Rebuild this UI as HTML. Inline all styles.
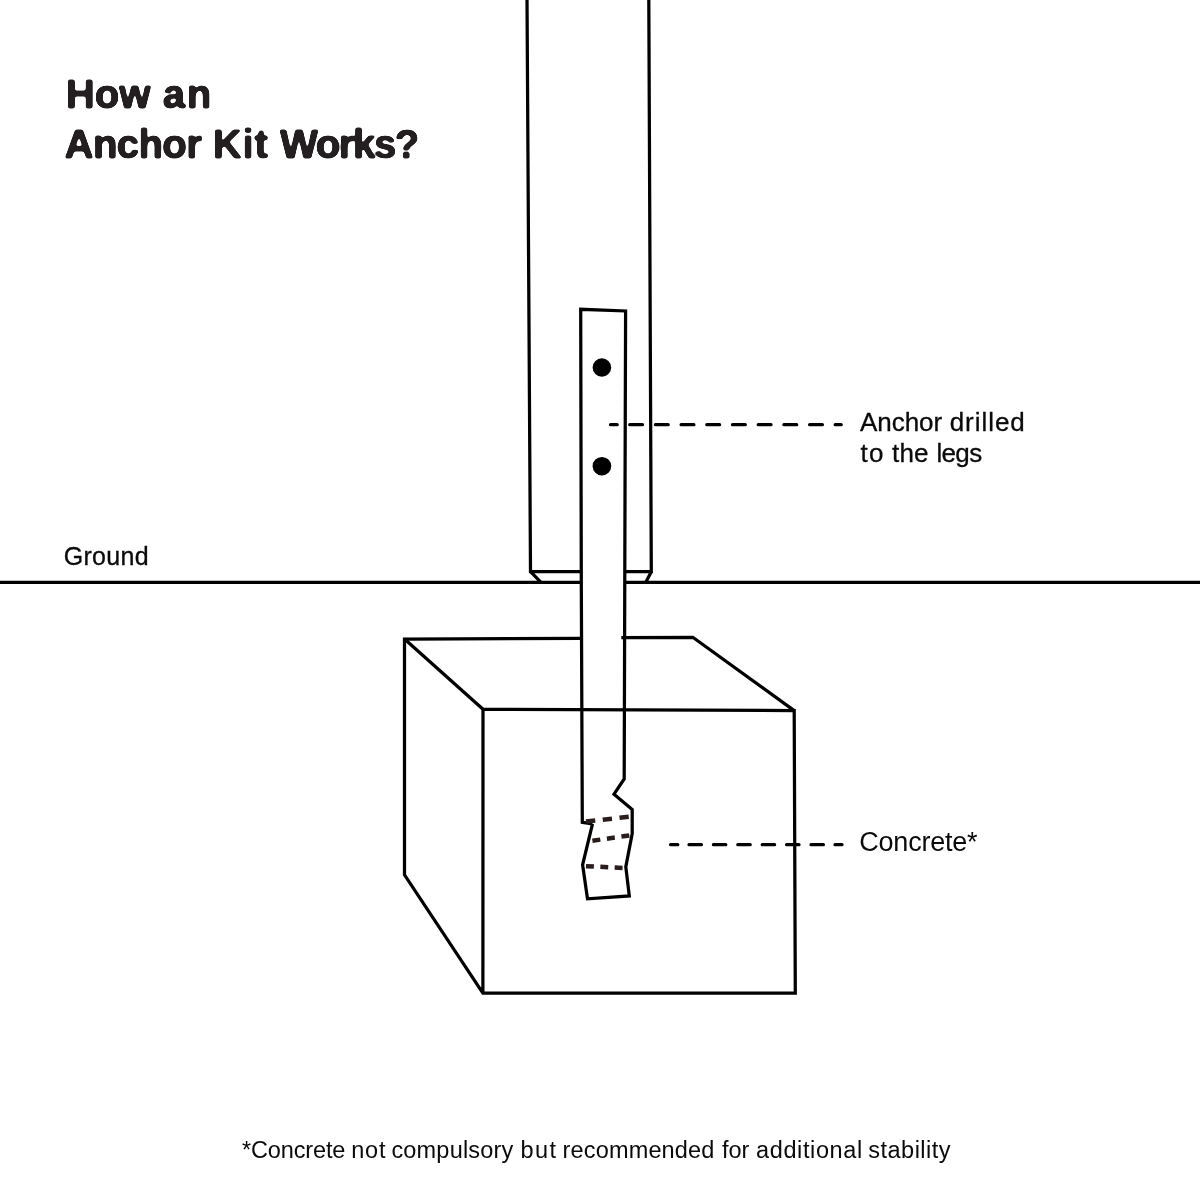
<!DOCTYPE html>
<html>
<head>
<meta charset="utf-8">
<title>How an Anchor Kit Works?</title>
<style>
html,body{margin:0;padding:0;background:#fff;}
body{width:1200px;height:1200px;overflow:hidden;position:relative;font-family:"Liberation Sans",sans-serif;}
svg{position:absolute;left:0;top:0;display:block;will-change:transform;}
text{font-family:"Liberation Sans",sans-serif;}
.t{font-weight:bold;font-size:40.2px;fill:#231f20;stroke:#231f20;stroke-width:1.15px;stroke-linejoin:round;}
.l{font-size:26px;fill:#0a0a0a;stroke:#0a0a0a;stroke-width:0.3px;}
.l2{font-size:27px;fill:#0a0a0a;}
.l3{font-size:23.5px;fill:#0a0a0a;}
</style>
</head>
<body>
<svg width="1200" height="1200" viewBox="0 0 1200 1200">
<defs>
<filter id="rnd" x="-5%" y="-20%" width="110%" height="140%" color-interpolation-filters="sRGB">
  <feGaussianBlur in="SourceGraphic" stdDeviation="1.25" result="b"/>
  <feColorMatrix in="b" type="matrix" values="0 0 0 0 0.137  0 0 0 0 0.122  0 0 0 0 0.125  0 0 0 4.5 -1.75"/>
</filter>
</defs>
<rect width="1200" height="1200" fill="#ffffff"/>
<g fill="none" stroke="#000" stroke-width="3.25" stroke-linecap="butt" stroke-linejoin="miter">
  <!-- ground -->
  <path d="M0 582.3 L581.3 582.3 M624.6 582.3 L1200 582.3"/>
  <!-- leg -->
  <path d="M527 -2 L530.5 571.7 L581.3 571.7 M530.5 571.7 L541 582.3"/>
  <path d="M648.8 -2 L651.3 571.7 L624.7 571.7 M651.3 571.7 L645.8 582.3"/>
  <!-- box -->
  <path d="M581.6 638.3 L404.5 639 L404.5 874.8 L482.9 993.2 L795.3 993.2 L794.2 710.6 L483 709.3 L482.9 993.2"/>
  <path d="M404.5 639 L483 709.3"/>
  <path d="M621.3 637.5 L692.8 637.3 L794.2 710.6"/>
  <!-- anchor -->
  <path d="M592.5 823.8 L582.3 822.3 L581.3 580 L580.7 309.3 L625.6 311 L625 500 L624.2 779 L614 794.2 L632.2 809.5 L632.2 833.6 L625.8 866.9 L629.3 895.9 L587.5 898.8 L582.6 864.8 L592.5 823.8"/>
</g>
<circle cx="601.9" cy="367.5" r="9.3" fill="#000"/>
<circle cx="601.9" cy="466.2" r="9.3" fill="#000"/>
<!-- anchor dotted folds -->
<g fill="none" stroke="#2a1d1d" stroke-width="4.5">
  <path d="M586 821.6 L628.8 816.8" stroke-dasharray="9.3 7.55"/>
  <path d="M592.4 840.8 L629.4 835.4" stroke-dasharray="8 6.65"/>
  <path d="M586 866.2 L622.6 867.9" stroke-dasharray="7.9 6.45"/>
</g>
<!-- leader lines -->
<g fill="none" stroke="#000" stroke-width="3.25" stroke-linecap="round">
  <path d="M610.5 424.7 L617.2 424.7"/>
  <path d="M629.7 424.7 L829 424.7" stroke-dasharray="12.8 12.9"/>
  <path d="M835.2 424.7 L841.2 424.7"/>
  <path d="M670.6 844.7 L677.8 844.7"/>
  <path d="M689 844.7 L825 844.7" stroke-dasharray="12.4 12"/>
  <path d="M835 844.7 L842 844.7"/>
</g>
<!-- text -->
<text filter="url(#rnd)" class="t" x="65.69" y="108.00" textLength="84.85" lengthAdjust="spacing">How</text>
<text filter="url(#rnd)" class="t" x="162.85" y="108.00" textLength="48.56" lengthAdjust="spacing">an</text>
<text filter="url(#rnd)" class="t" x="64.59" y="158.00" textLength="137.22" lengthAdjust="spacing">Anchor</text>
<text filter="url(#rnd)" class="t" x="212.74" y="158.00" textLength="55.07" lengthAdjust="spacing">Kit</text>
<text filter="url(#rnd)" class="t" x="279.92" y="158.00" textLength="139.50" lengthAdjust="spacing">Works?</text>
<text class="l" x="860.00" y="430.80" textLength="82.11" lengthAdjust="spacing">Anchor</text>
<text class="l" x="949.66" y="430.80" textLength="75.12" lengthAdjust="spacing">drilled</text>
<text class="l" x="860.41" y="461.60" textLength="23.06" lengthAdjust="spacing">to</text>
<text class="l" x="891.94" y="461.60" textLength="36.63" lengthAdjust="spacing">the</text>
<text class="l" x="936.41" y="461.60" textLength="45.72" lengthAdjust="spacing">legs</text>
<text class="l2" x="859.24" y="850.70" textLength="118.40" lengthAdjust="spacing">Concrete*</text>
<text class="l" x="63.74" y="564.50" textLength="84.85" lengthAdjust="spacing" style="font-size:25px">Ground</text>
<text class="l3" x="241.92" y="1157.70" textLength="103.49" lengthAdjust="spacing">*Concrete</text>
<text class="l3" x="351.18" y="1157.70" textLength="34.31" lengthAdjust="spacing">not</text>
<text class="l3" x="391.42" y="1157.70" textLength="121.83" lengthAdjust="spacing">compulsory</text>
<text class="l3" x="520.47" y="1157.70" textLength="35.45" lengthAdjust="spacing">but</text>
<text class="l3" x="562.49" y="1157.70" textLength="151.94" lengthAdjust="spacing">recommended</text>
<text class="l3" x="722.09" y="1157.70" textLength="27.29" lengthAdjust="spacing">for</text>
<text class="l3" x="756.02" y="1157.70" textLength="106.18" lengthAdjust="spacing">additional</text>
<text class="l3" x="868.24" y="1157.70" textLength="82.36" lengthAdjust="spacing">stability</text>
</svg>
</body>
</html>
